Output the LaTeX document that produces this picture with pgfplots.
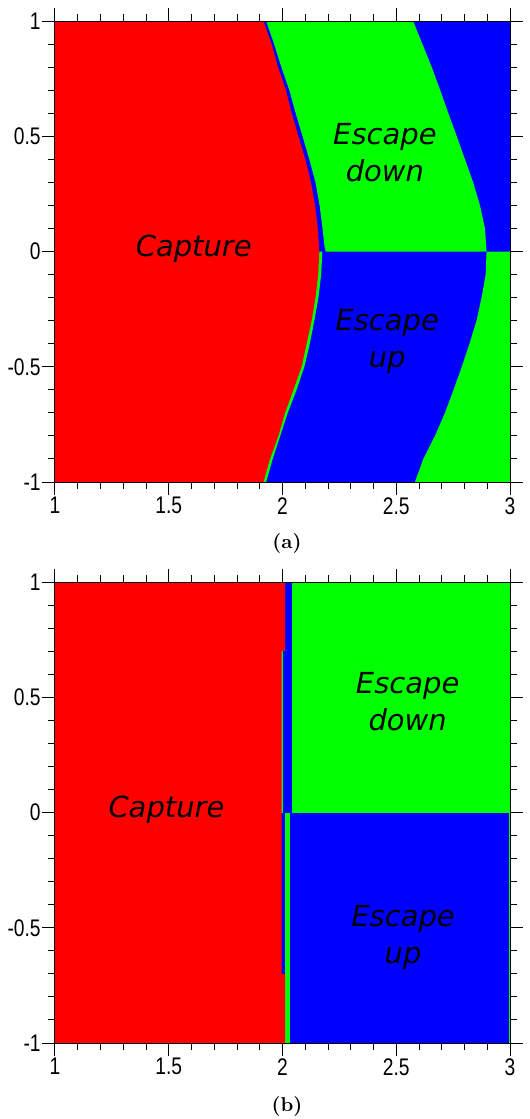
\documentclass[border=0pt]{standalone}
\usepackage{pgfplots}
\pgfplotsset{compat=1.18}
\usepackage{fontspec}
\newfontfamily\ticksans[FakeStretch=0.8]{Liberation Sans}
\newfontfamily\labsans{DejaVu Sans}

\definecolor{capred}{RGB}{255,0,0}
\definecolor{escgreen}{RGB}{0,255,0}
\definecolor{escblue}{RGB}{0,0,255}

\pgfplotsset{
  basin/.style={
    scale only axis, width=227.5pt, height=230.5pt,
    xmin=1, xmax=3, ymin=-1, ymax=1,
    xtick={1,1.5,2,2.5,3}, ytick={-1,-0.5,0,0.5,1},
    minor x tick num=4, minor y tick num=4,
    tick align=outside, major tick length=6.5pt, minor tick length=3.5pt,
    axis on top,
    tick style={black, line width=0.5pt},
    axis line style={black, line width=0.5pt},
    tick label style={font=\ticksans\fontsize{12}{14}\selectfont},
    yticklabel style={inner xsep=0.5pt},
    xticklabel style={inner ysep=1pt},
    /pgf/number format/assume math mode=true,
  },
}
\tikzset{region/.style={font=\labsans\itshape\fontsize{14.5}{18.5}\selectfont, align=center}}

\begin{document}
\begin{tikzpicture}
% ---------------- panel (a)
\begin{axis}[basin, at={(27.5pt,-241pt)}, anchor=south west]
\addplot[fill=escblue, draw=none] coordinates {(1,-1) (3,-1) (3,1) (1,1)} -- cycle;
% escape down, upper band
\addplot[fill=escgreen, draw=none] coordinates {
  (1.928,1) (1.963,0.9) (1.995,0.8) (2.03,0.7) (2.058,0.6) (2.088,0.5)
  (2.118,0.4) (2.145,0.3) (2.163,0.2) (2.176,0.1) (2.185,0.02) (2.19,0)
  (2.897,0) (2.89,0.1) (2.868,0.2) (2.838,0.3) (2.802,0.4) (2.766,0.5)
  (2.729,0.6) (2.693,0.7) (2.656,0.8) (2.615,0.9) (2.574,1)} -- cycle;
% escape down, lower right
\addplot[fill=escgreen, draw=none] coordinates {
  (2.897,0) (2.893,-0.1) (2.875,-0.2) (2.853,-0.3) (2.822,-0.4) (2.788,-0.5)
  (2.752,-0.6) (2.714,-0.7) (2.67,-0.8) (2.619,-0.9) (2.582,-1) (3,-1) (3,0)} -- cycle;
% thin green strip along the capture edge
\addplot[fill=escgreen, draw=none] coordinates {
  (2.175,0) (2.17,-0.1) (2.158,-0.2) (2.14,-0.3) (2.12,-0.4) (2.096,-0.5)
  (2.062,-0.6) (2.023,-0.7) (1.99,-0.8) (1.957,-0.9) (1.928,-1) (1.5,-1) (1.5,0)} -- cycle;
% capture
\addplot[fill=capred, draw=none] coordinates {
  (1,1) (1.916,1) (1.952,0.9) (1.98,0.8) (2.015,0.7) (2.04,0.6) (2.07,0.5)
  (2.10,0.4) (2.125,0.3) (2.143,0.2) (2.155,0.1) (2.162,0) (2.157,-0.1)
  (2.145,-0.2) (2.128,-0.3) (2.106,-0.4) (2.084,-0.5) (2.048,-0.6)
  (2.011,-0.7) (1.982,-0.8) (1.945,-0.9) (1.916,-1) (1,-1)} -- cycle;
\node[region] at (axis cs:1.61,0.01) {Capture};
\node[region] at (axis cs:2.45,0.43) {Escape\\down};
\node[region] at (axis cs:2.46,-0.39) {Escape\\up};
\end{axis}
\node[font=\bfseries\fontsize{10}{12}\selectfont] at (143.5pt,-271.5pt) {(a)};

% ---------------- panel (b)
\begin{axis}[basin, at={(27.5pt,-521.5pt)}, anchor=south west]
\addplot[fill=escblue, draw=none] coordinates {(1,-1) (3,-1) (3,1) (1,1)} -- cycle;
\addplot[fill=escgreen, draw=none] coordinates {(2.04,0) (3,0) (3,1) (2.04,1)} -- cycle;
\addplot[fill=escgreen, draw=none] coordinates {(2.011,-1) (2.033,-1) (2.033,0) (2.011,0)} -- cycle;
\addplot[fill=escgreen, draw=none] coordinates {(1.99,0) (2.004,0) (2.004,0.7) (1.99,0.7)} -- cycle;
\addplot[fill=escgreen, draw=none] coordinates {(2.994,-1) (3,-1) (3,0) (2.994,0)} -- cycle;
\addplot[fill=capred, draw=none] coordinates {
  (1,-1) (2.011,-1) (2.011,-0.7) (1.996,-0.7) (1.996,0.7) (2.011,0.7) (2.011,1) (1,1)} -- cycle;
\node[region] at (axis cs:1.49,0.01) {Capture};
\node[region] at (axis cs:2.55,0.48) {Escape\\down};
\node[region] at (axis cs:2.53,-0.54) {Escape\\up};
\end{axis}
\node[font=\bfseries\fontsize{10}{12}\selectfont] at (143.5pt,-553.3pt) {(b)};

\pgfresetboundingbox
\path[use as bounding box] (0pt,0pt) rectangle (265pt,-559.5pt);
\end{tikzpicture}
\end{document}
